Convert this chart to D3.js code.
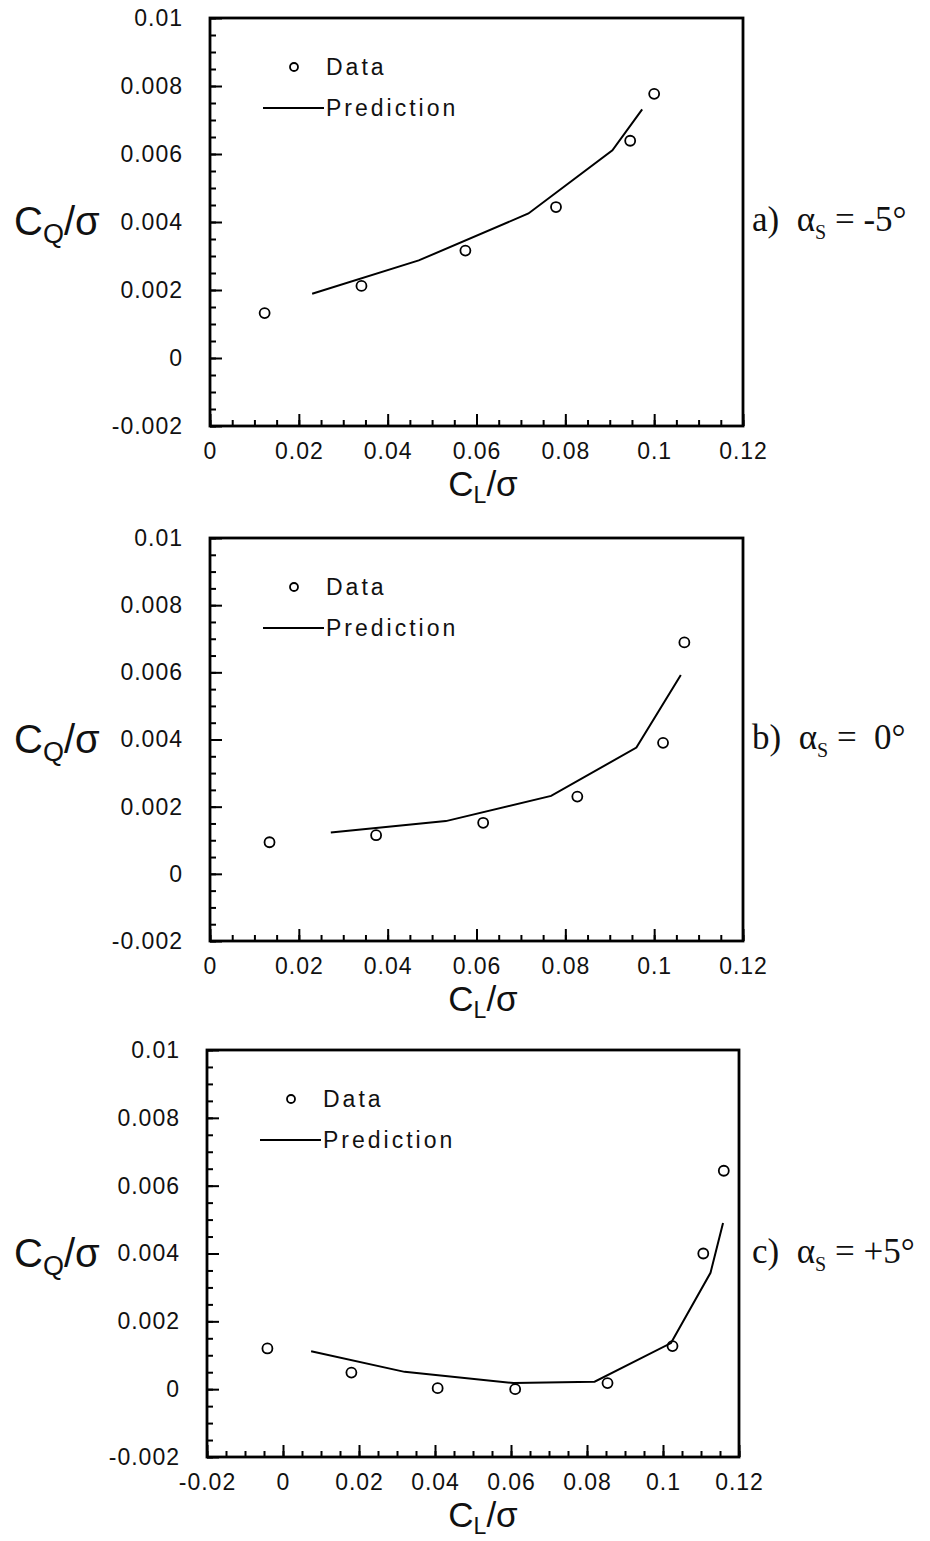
<!DOCTYPE html>
<html lang="en">
<head>
<meta charset="UTF-8">
<title>CQ/sigma vs CL/sigma</title>
<script src="https://d3js.org/d3.v7.min.js"></script>
<style>
  body { margin: 0; background: #fff; }
  svg { display: block; }
  .tick text { font-family: "Liberation Sans", Arial, sans-serif; font-size: 23px; fill: #111; letter-spacing: 1px; }
  .legend text { font-family: "Liberation Sans", Arial, sans-serif; font-size: 23px; fill: #111; letter-spacing: 3px; }
  .title { font-family: "Liberation Sans", Arial, sans-serif; fill: #111; }
  .case { font-family: "Liberation Serif", "Times New Roman", serif; font-size: 35px; fill: #111; white-space: pre; }
</style>
</head>
<body>
<svg id="chart"></svg>
<script>
// panel a) alpha_s = -5 deg
var clDataA = [0.0123, 0.0341, 0.0575, 0.0779, 0.0946, 0.1000];
var cqDataA = [0.00132, 0.00212, 0.00316, 0.00444, 0.00639, 0.00777];
var clPredA = [0.0230, 0.0470, 0.0717, 0.0906, 0.0973];
var cqPredA = [0.00189, 0.00287, 0.00425, 0.00611, 0.00731];

// panel b) alpha_s = 0 deg
var clDataB = [0.0134, 0.0374, 0.0615, 0.0827, 0.1020, 0.1068];
var cqDataB = [0.00094, 0.00115, 0.00152, 0.00230, 0.00390, 0.00689];
var clPredB = [0.0272, 0.0531, 0.0768, 0.0960, 0.1060];
var cqPredB = [0.00123, 0.00157, 0.00232, 0.00376, 0.00592];

// panel c) alpha_s = +5 deg
var clDataC = [-0.0041, 0.0180, 0.0407, 0.0611, 0.0854, 0.1025, 0.1106, 0.1160];
var cqDataC = [0.00120, 0.00049, 0.00003, 0.00000, 0.00018, 0.00127, 0.00400, 0.00644];
var clPredC = [0.0074, 0.0320, 0.0607, 0.0820, 0.1021, 0.1125, 0.1158];
var cqPredC = [0.00112, 0.00051, 0.00018, 0.00022, 0.00136, 0.00343, 0.00490];

// axes
var yTicks = [-0.002, 0, 0.002, 0.004, 0.006, 0.008, 0.01];
var yTickLabels = ["-0.002", "0", "0.002", "0.004", "0.006", "0.008", "0.01"];
var xTicksAB = [0, 0.02, 0.04, 0.06, 0.08, 0.1, 0.12];
var xTickLabelsAB = ["0", "0.02", "0.04", "0.06", "0.08", "0.1", "0.12"];
var xTicksC = [-0.02, 0, 0.02, 0.04, 0.06, 0.08, 0.1, 0.12];
var xTickLabelsC = ["-0.02", "0", "0.02", "0.04", "0.06", "0.08", "0.1", "0.12"];
var caseLabels = ["a)  \u03b1", "b)  \u03b1", "c)  \u03b1"];
var caseValues = [" = -5\u00b0", " =  0\u00b0", " = +5\u00b0"];

var svg = d3.select("#chart").attr("width", 930).attr("height", 1541);

var panels = [
  {left: 210, right: 743, top: 18, bottom: 426, xDom: [0, 0.12], xT: xTicksAB, xL: xTickLabelsAB,
   cl: clDataA, cq: cqDataA, pcl: clPredA, pcq: cqPredA},
  {left: 210, right: 743, top: 538, bottom: 941, xDom: [0, 0.12], xT: xTicksAB, xL: xTickLabelsAB,
   cl: clDataB, cq: cqDataB, pcl: clPredB, pcq: cqPredB},
  {left: 207, right: 739, top: 1050, bottom: 1457, xDom: [-0.02, 0.12], xT: xTicksC, xL: xTickLabelsC,
   cl: clDataC, cq: cqDataC, pcl: clPredC, pcq: cqPredC}
];

panels.forEach(function(p, i) {
  var x = d3.scaleLinear().domain(p.xDom).range([p.left, p.right]);
  var y = d3.scaleLinear().domain([-0.002, 0.01]).range([p.bottom, p.top]);
  var g = svg.append("g");

  // minor ticks
  var xMinor = d3.range(Math.round(p.xDom[0] / 0.005), Math.round(p.xDom[1] / 0.005) + 1).map(function(k) { return k * 0.005; });
  var yMinor = d3.range(-4, 21).map(function(k) { return k * 0.0005; });
  g.append("g").attr("transform", "translate(0," + p.bottom + ")")
    .call(d3.axisBottom(x).tickValues(xMinor).tickSize(-6).tickSizeOuter(0).tickFormat(""))
    .call(function(a) { a.select(".domain").remove(); a.selectAll("line").attr("stroke-width", 2); });
  g.append("g").attr("transform", "translate(" + p.left + ",0)")
    .call(d3.axisLeft(y).tickValues(yMinor).tickSize(-6).tickSizeOuter(0).tickFormat(""))
    .call(function(a) { a.select(".domain").remove(); a.selectAll("line").attr("stroke-width", 2); });

  // major ticks + labels
  g.append("g").attr("transform", "translate(0," + p.bottom + ")")
    .call(d3.axisBottom(x).tickValues(p.xT).tickSize(-12).tickSizeOuter(0).tickPadding(17)
      .tickFormat(function(d, k) { return p.xL[k]; }))
    .call(function(a) { a.select(".domain").remove(); a.selectAll("line").attr("stroke-width", 2); });
  g.append("g").attr("transform", "translate(" + p.left + ",0)")
    .call(d3.axisLeft(y).tickValues(yTicks).tickSize(-12).tickSizeOuter(0).tickPadding(27)
      .tickFormat(function(d, k) { return yTickLabels[k]; }))
    .call(function(a) { a.select(".domain").remove(); a.selectAll("line").attr("stroke-width", 2); });

  // frame
  g.append("rect")
    .attr("x", p.left).attr("y", p.top)
    .attr("width", p.right - p.left).attr("height", p.bottom - p.top)
    .attr("fill", "none").attr("stroke", "#000").attr("stroke-width", 2.8);

  // prediction line
  var pts = p.pcl.map(function(v, k) { return [v, p.pcq[k]]; });
  g.append("path")
    .datum(pts)
    .attr("fill", "none").attr("stroke", "#000").attr("stroke-width", 2)
    .attr("d", d3.line().x(function(d) { return x(d[0]); }).y(function(d) { return y(d[1]); }));

  // data circles
  g.selectAll("circle.data")
    .data(p.cl.map(function(v, k) { return [v, p.cq[k]]; }))
    .enter().append("circle")
      .attr("class", "data")
      .attr("cx", function(d) { return x(d[0]); })
      .attr("cy", function(d) { return y(d[1]); })
      .attr("r", 5)
      .attr("fill", "none").attr("stroke", "#000").attr("stroke-width", 1.8);

  // legend
  var lg = g.append("g").attr("class", "legend");
  lg.append("circle").attr("cx", p.left + 84).attr("cy", p.top + 49).attr("r", 4)
    .attr("fill", "none").attr("stroke", "#000").attr("stroke-width", 1.8);
  lg.append("text").attr("x", p.left + 116).attr("y", p.top + 57).text("Data");
  lg.append("line").attr("x1", p.left + 53).attr("x2", p.left + 114)
    .attr("y1", p.top + 90).attr("y2", p.top + 90).attr("stroke", "#000").attr("stroke-width", 1.8);
  lg.append("text").attr("x", p.left + 116).attr("y", p.top + 98).text("Prediction");

  // y title
  var yt = svg.append("text").attr("class", "title")
    .attr("x", 14).attr("y", y(0.004) + 13).attr("font-size", 40);
  yt.append("tspan").text("C");
  yt.append("tspan").attr("font-size", 27).attr("dy", 8).text("Q");
  yt.append("tspan").attr("dy", -8).text("/\u03c3");

  // x title
  var xt = svg.append("text").attr("class", "title")
    .attr("x", 483).attr("y", p.bottom + 70).attr("text-anchor", "middle").attr("font-size", 35);
  xt.append("tspan").text("C");
  xt.append("tspan").attr("font-size", 23).attr("dy", 7).text("L");
  xt.append("tspan").attr("dy", -7).text("/\u03c3");

  // case label
  var ct = svg.append("text").attr("class", "case")
    .attr("x", 752).attr("y", y(0.004) + 9);
  ct.append("tspan").text(caseLabels[i]);
  ct.append("tspan").attr("font-size", 20).attr("dy", 8).text("S");
  ct.append("tspan").attr("dy", -8).text(caseValues[i]);
});
</script>
</body>
</html>
